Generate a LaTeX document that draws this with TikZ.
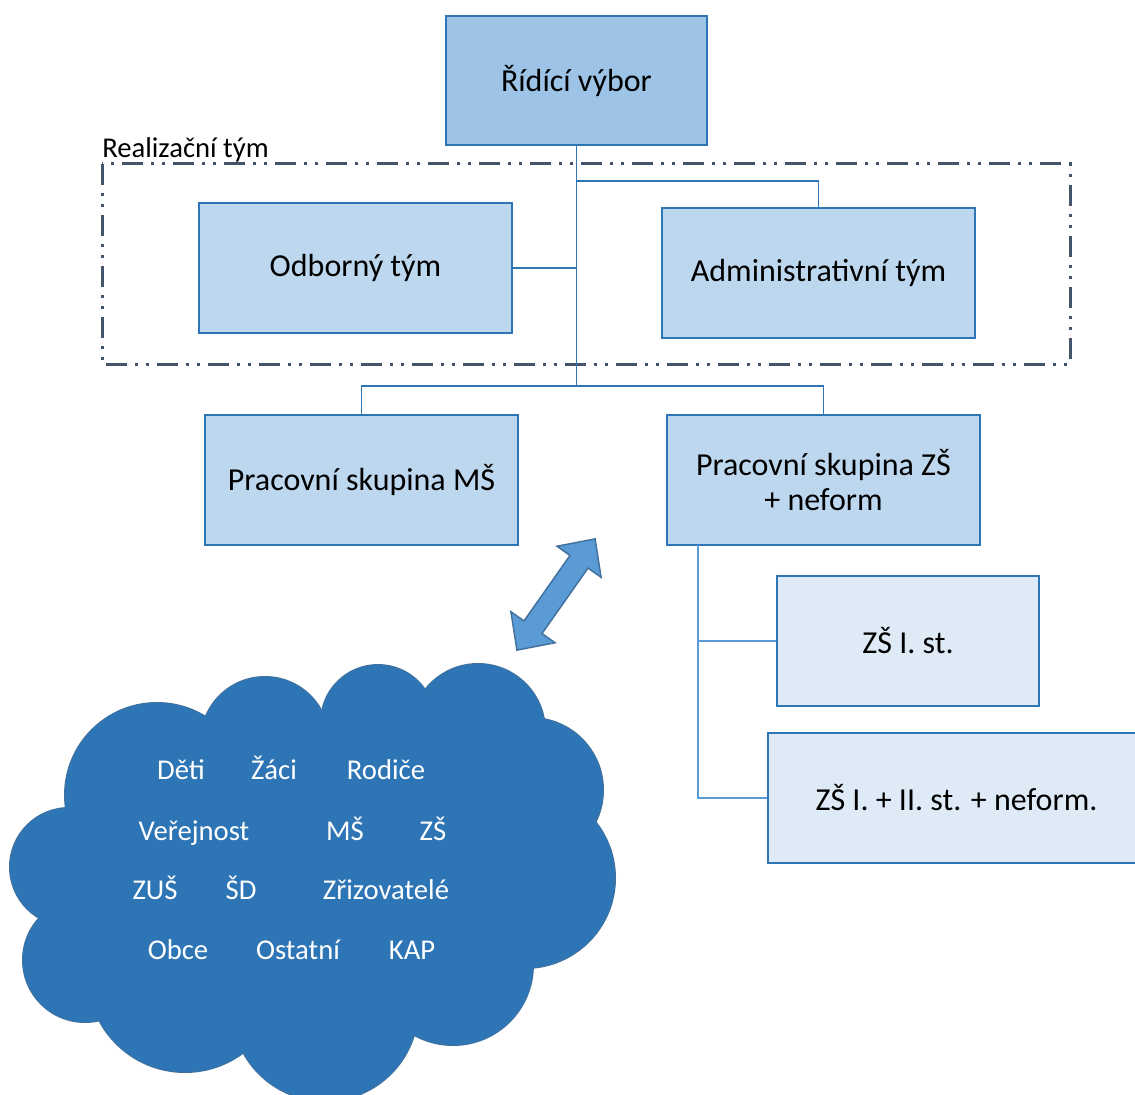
\documentclass[tikz,border=0pt]{standalone}
\usepackage{fontspec}
\setmainfont{Carlito}
\definecolor{lineblue}{HTML}{2E75B6}
\definecolor{softline}{HTML}{5B9BD5}
\definecolor{darkfill}{HTML}{9DC3E6}
\definecolor{midfill}{HTML}{BDD7EE}
\definecolor{palefill}{HTML}{DEEBF7}
\definecolor{cloudblue}{HTML}{2E75B6}
\definecolor{cloudedge}{HTML}{41719C}
\definecolor{framegray}{HTML}{44546A}
\tikzset{
  box/.style={draw=lineblue,line width=1.1pt,fill=midfill,minimum width=234.75pt,
    minimum height=97.5pt,inner sep=0pt,align=center,font=\fontsize{24}{26}\selectfont},
  conn/.style={draw=lineblue,line width=1.2pt},
  word/.style={anchor=base,text=white,font=\fontsize{21.5}{24}\selectfont}
}
\begin{document}
\begin{tikzpicture}[x=0.75pt,y=-0.75pt]
			\useasboundingbox (0,0) rectangle (1135,1095);
			% boxes
			\node[box,fill=darkfill,minimum width=195.75pt,minimum height=96.75pt] (rid) at (576.5,80.5) {Řídící výbor};
			\node[box] (odb) at (355.5,268) {Odborný tým};
			\node[box] (adm) at (818.5,273) {Administrativní tým};
			\node[box] (pms) at (361.5,480) {Pracovní skupina MŠ};
			\node[box] (pzs) at (823.5,480) {Pracovní skupina ZŠ\\+ neform};
			\node[box,fill=palefill,line width=2pt,minimum width=196.5pt] (zs1) at (908,641) {ZŠ I. st.};
			\node[box,fill=palefill,line width=2pt,minimum width=282.75pt] (zs2) at (956.5,798) {ZŠ I. + II. st. + neform.};
			% realizacni tym
			\draw[framegray,line width=2.25pt,dash pattern=on 15.75pt off 6pt on 2.25pt off 6pt on 2.25pt off 6pt]
			(102,164) rectangle (1070,364);
			\node[anchor=base west,inner sep=0pt,font=\fontsize{21.5}{24}\selectfont] (real) at (102,158) {Realizační tým};
			% connectors
			\path 
			(576.5,181) coordinate (abr)
			(576.5,386) coordinate (bus)
			(698,545) coordinate (sp)
			;
			\draw[conn] (rid.south)--(bus) (pms.north) |- (bus) -| (pzs.north);
			\draw[conn] (abr) -| (adm.north);
			\draw[conn] (odb.east)--(odb.east -| rid.south);
			\draw[conn,draw=softline,line width=1.6pt] (sp) |- (zs1.west) (sp) |- (zs2.west);
			% arrow
			\begin{scope}[shift={(556,594.5)},rotate=54.9]
			\draw[fill=softline,draw=cloudedge,line width=1.1pt,line join=miter]
			(-68,0)--(-40,27)--(-40,11)--(40,11)--(40,27)--(68,0)--(40,-27)--(40,-11)--(-40,-11)--(-40,-27)--cycle;
			\end{scope}
			% cloud
			\def\lobes{157/795/92,265/741/64,378/722/57,478/731/67,531/790/72,525/878/90,453/965/80,325/1008/93,185/975/97,85/960/62,69/867/59}
			\foreach \cx/\cy/\r in \lobes \draw[cloudedge,line width=1.5pt] (\cx,\cy) circle (\r);
			\foreach \cx/\cy/\r in \lobes \fill[cloudblue] (\cx,\cy) circle (\r);
			\fill[cloudblue] (315,880) ellipse [x radius=230,y radius=150];
			\foreach \t/\x/\y in {Děti/181/779,Žáci/274/779,Rodiče/386/779,Veřejnost/194/840,MŠ/345/840,ZŠ/433/840,ZUŠ/155/899,ŠD/241/899,Zřizovatelé/386/899,Obce/178/959,Ostatní/298/959,KAP/412/959}
			\node[word] at (\x,\y) {\t};
		\end{tikzpicture}
\end{document}
